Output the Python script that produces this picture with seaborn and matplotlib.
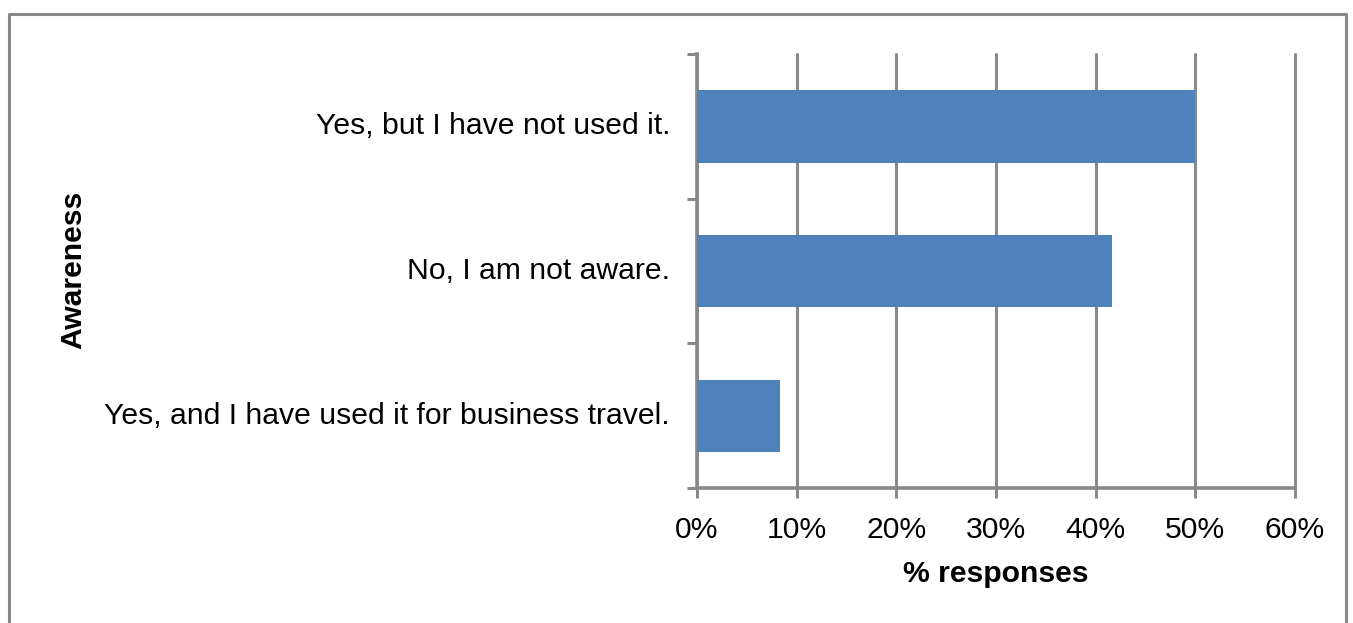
import numpy as np
import pandas as pd
import seaborn as sns
import matplotlib.pyplot as plt
from matplotlib.lines import Line2D

# data
categories = ["Yes, but I have not used it.",
              "No, I am not aware.",
              "Yes, and I have used it for business travel."]
responses = [50.0, 41.67, 8.33]
x_ticks = [0, 10, 20, 30, 40, 50, 60]
x_tick_labels = ["0%", "10%", "20%", "30%", "40%", "50%", "60%"]

BAR_COLOR = "#4F81BD"
GRID_COLOR = "#898989"
FS = 21.7

sns.set_theme(style="white")
plt.rcParams['font.family'] = ['Liberation Sans', 'DejaVu Sans']
plt.rcParams['text.color'] = 'black'

df = pd.DataFrame({"Awareness": categories, "responses": responses})

W, H = 1353, 623
fig = plt.figure(figsize=(W / 100, H / 100), dpi=100)
ax = fig.add_axes([697 / W, 1 - 488 / H, (1295 - 697) / W, (488 - 54) / H])

sns.barplot(data=df, y="Awareness", x="responses", color=BAR_COLOR,
            width=0.5, saturation=1, linewidth=0, ax=ax, zorder=3)

ax.set_xlim(0, 60)
ax.set_ylim(2.5, -0.5)
ax.set_xticks(x_ticks)
ax.set_xticklabels(x_tick_labels, fontsize=FS)
ax.grid(axis="x", color=GRID_COLOR, linewidth=2.2, zorder=0)
ax.set_axisbelow(True)
for gl in ax.get_xgridlines():
    gl.set_clip_on(False)

# category ticks sit on the boundaries between bars
ax.set_yticks([-0.5, 0.5, 1.5, 2.5])
ax.set_yticklabels([])
for i, label in enumerate(categories):
    ax.text(-0.045, i, label, transform=ax.get_yaxis_transform(),
            ha="right", va="center", fontsize=FS, color="black")
ax.tick_params(axis="y", length=7, width=2.2, color=GRID_COLOR, left=True, direction="out")
ax.tick_params(axis="x", length=7, width=2.2, color=GRID_COLOR, bottom=True,
               direction="out", pad=13, labelcolor="black")

for side in ["top", "right"]:
    ax.spines[side].set_visible(False)
for side in ["left", "bottom"]:
    ax.spines[side].set_color(GRID_COLOR)
    ax.spines[side].set_linewidth(2.6)

ax.set_xlabel("% responses", fontsize=FS, fontweight="bold", labelpad=12, color="black")
ax.set_ylabel("")
fig.text(73 / W, 1 - 270 / H, "Awareness", rotation=90, ha="center", va="center",
         fontsize=FS, fontweight="bold", color="black")

# outer chart border (bottom edge is outside the picture)
x0, x1 = 9 / W, 1346 / W
y0, y1 = 1 - 14 / H, -0.05
fig.add_artist(Line2D([x0, x0, x1, x1], [y1, y0, y0, y1], color="#878787",
                      linewidth=2.2, transform=fig.transFigure))

fig.savefig("out.png", dpi=100, facecolor="white")
